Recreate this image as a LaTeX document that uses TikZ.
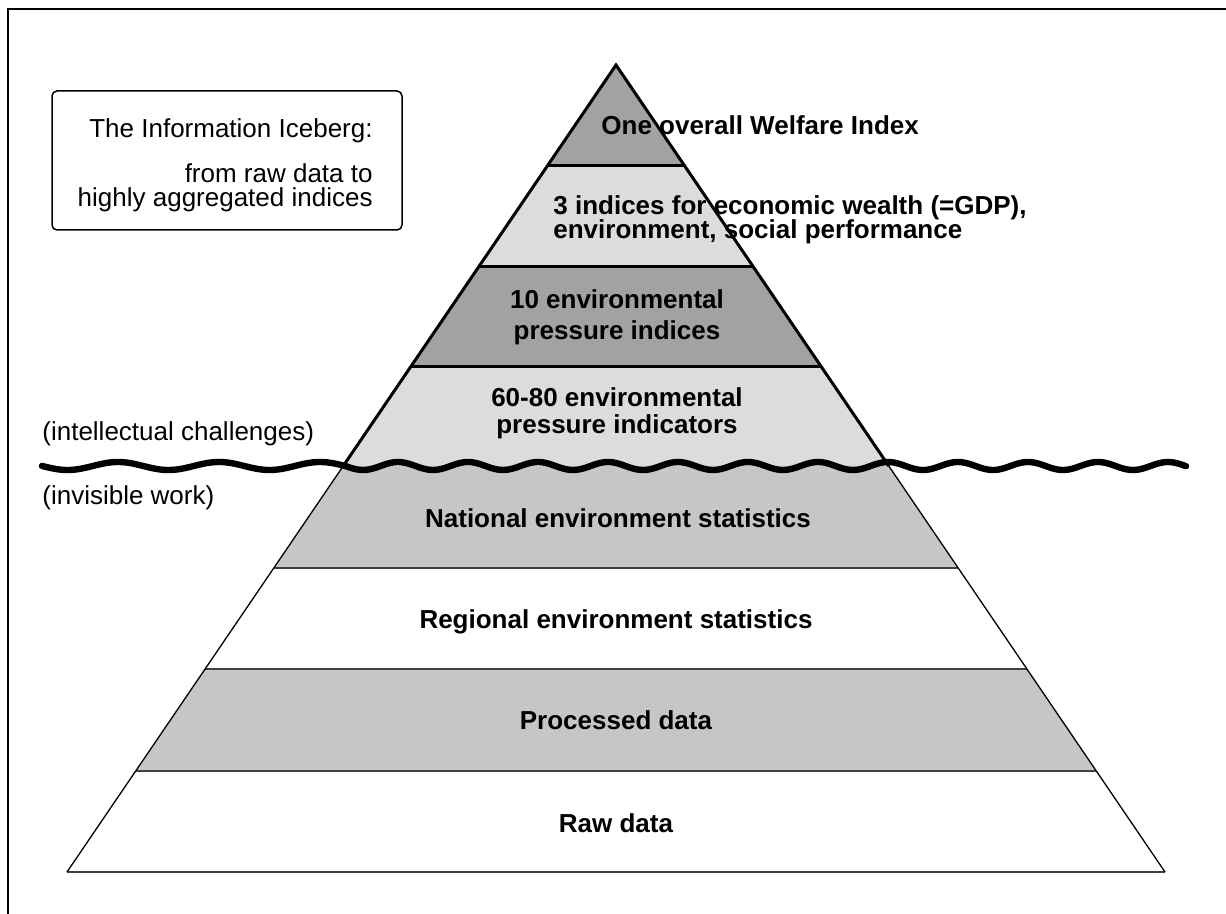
\documentclass[tikz,border=0pt]{standalone}
\usepackage{fontspec}
\setmainfont{Liberation Sans}
\definecolor{fillA}{HTML}{A2A2A2}
\definecolor{fillB}{HTML}{DCDCDC}
\definecolor{fillC}{HTML}{C6C6C6}
\begin{document}
\begin{tikzpicture}[x=0.5pt,y=-0.5pt,
  lbl/.style={font=\fontsize{13}{15}\selectfont\bfseries, inner sep=0pt},
  note/.style={font=\fontsize{13}{15}\selectfont, inner sep=0pt},
  upperline/.style={draw=black, line width=1.5pt},
  loweredge/.style={draw=black, line width=0.65pt},
  lowersep/.style={draw=black!75, line width=1pt},
  waveline/.style={draw=black, line width=3.2pt, line cap=round, line join=round},
  frameline/.style={draw=black, line width=1.4pt},
  titlebox/.style={draw=black, line width=0.75pt, rounded corners=2.5pt}]
\useasboundingbox (0,0) rectangle (1226,914);
% frame (top and left)
\draw[frameline] (8,914) -- (8,9) -- (1226,9);
% title box
\draw[titlebox] (52,91) rectangle (402,230);
\node[note, anchor=base east] (t1) at (373,138) {The Information Iceberg:};
\node[note, anchor=base east] (t2) at (373,183) {from raw data to};
\node[note, anchor=base east] (t3) at (373,207) {highly aggregated indices};
% layer fills
\coordinate (apex) at (616,65);
\fill[fillA] (apex) -- (684.7,166) -- (547.3,166) -- cycle;
\fill[fillB] (547.3,166) -- (684.7,166) -- (753.4,267) -- (478.6,267) -- cycle;
\fill[fillA] (478.6,267) -- (753.4,267) -- (821.5,367) -- (410.5,367) -- cycle;
\fill[fillB] (410.5,367) -- (821.5,367) -- (888.8,466) -- (343.2,466) -- cycle;
\fill[fillC] (343.2,466) -- (888.8,466) -- (958.2,568) -- (273.8,568) -- cycle;
\fill[fillC] (135.7,771) -- (1096.3,771) -- (1026.9,669) -- (205.1,669) -- cycle;
% lower part lines
\draw[lowersep] (273.8,568) -- (958.2,568);
\draw[lowersep] (205.1,669) -- (1026.9,669);
\draw[lowersep] (135.7,771) -- (1096.3,771);
\draw[lowersep] (67,872) -- (1165,872);
\draw[loweredge] (343.2,466) -- (67,872);
\draw[loweredge] (888.8,466) -- (1165,872);
% upper part lines
\draw[upperline] (547.3,166) -- (684.7,166);
\draw[upperline] (478.6,267) -- (753.4,267);
\draw[upperline] (410.5,367) -- (821.5,367);
\draw[upperline] (343.2,466) -- (apex) -- (888.8,466);
% layer labels
\node[lbl, anchor=base west] (l1) at (601,135) {One overall Welfare Index};
\node[lbl, anchor=base west] (l2a) at (553,215) {3 indices for economic wealth (=GDP),};
\node[lbl, anchor=base west] (l2b) at (553,239) {environment, social performance};
\node[lbl, anchor=base] (l3a) at (617,309) {10 environmental};
\node[lbl, anchor=base] (l3b) at (617,340) {pressure indices};
\node[lbl, anchor=base] (l4a) at (617,407) {60-80 environmental};
\node[lbl, anchor=base] (l4b) at (617,434) {pressure indicators};
\node[lbl, anchor=base] (l5) at (618,527) {National environment statistics};
\node[lbl, anchor=base] (l6) at (616,628) {Regional environment statistics};
\node[lbl, anchor=base] (l7) at (616,729) {Processed data};
\node[lbl, anchor=base] (l8) at (616,832) {Raw data};
% side labels
\node[note, anchor=base west] (above) at (42,441) {(intellectual challenges)};
\node[note, anchor=base west] (below) at (42,504) {(invisible work)};
% water line
\draw[waveline] plot[domain=42:346, samples=120] (\x,{466-4*cos((\x-346)/101*360+92.6)})
  -- plot[domain=346:1186, samples=300] (\x,{466-4*cos((\x-398)/70*360)});
\end{tikzpicture}
\end{document}
